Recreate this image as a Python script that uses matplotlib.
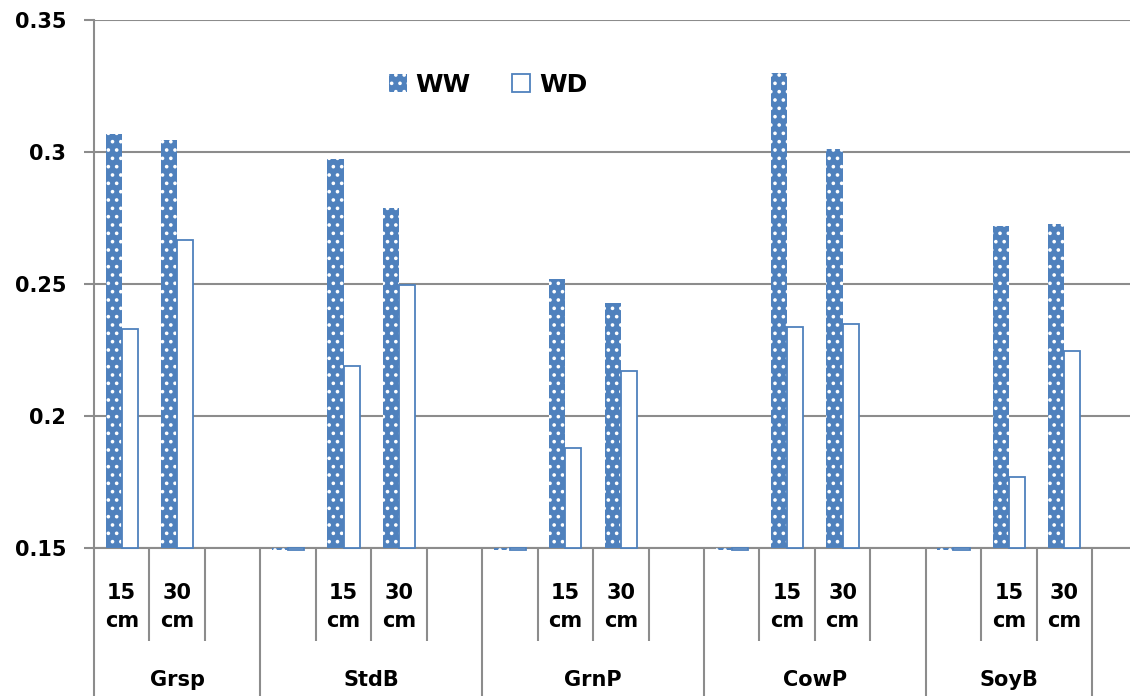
import numpy as np
import matplotlib
matplotlib.use("Agg")
import matplotlib.pyplot as plt
import matplotlib.transforms as mtransforms

# Data
groups = ["Grsp", "StdB", "GrnP", "CowP", "SoyB"]
slot_labels = ["15\ncm", "30\ncm", "",
               "", "15\ncm", "30\ncm", "",
               "", "15\ncm", "30\ncm", "",
               "", "15\ncm", "30\ncm", "",
               "", "15\ncm", "30\ncm"]
group_sizes = [3, 4, 4, 4, 3]
ww = [0.3068, 0.3045, np.nan,
      0.1492, 0.2973, 0.2788, np.nan,
      0.1492, 0.2521, 0.2427, np.nan,
      0.1492, 0.3298, 0.3010, np.nan,
      0.1492, 0.2722, 0.2727]
wd = [0.2329, 0.2667, np.nan,
      0.1492, 0.2191, 0.2495, np.nan,
      0.1492, 0.1880, 0.2172, np.nan,
      0.1492, 0.2337, 0.2348, np.nan,
      0.1492, 0.1771, 0.2247]
y_ticks = [0.15, 0.2, 0.25, 0.3, 0.35]
y_tick_labels = ["0.15", "0.2", "0.25", "0.3", "0.35"]

blue = "#4F81BD"
grid_grey = "#8C8C8C"
plt.rcParams["font.family"] = ["DejaVu Sans"]
plt.rcParams["font.weight"] = "bold"
plt.rcParams["hatch.linewidth"] = 1.4

W, H = 1130, 696
fig = plt.figure(figsize=(W / 100, H / 100), dpi=100)
slot_px = 55.45
ax = fig.add_axes([94 / W, (H - 548.3) / H, (W - 94) / W, (548.3 - 20) / H])

ymin, ymax = 0.15, 0.35
ax.set_ylim(ymin, ymax)
ax.set_xlim(0, (W - 94) / slot_px)

x = np.arange(len(ww)) + 0.5
bw = 0.29
ww_arr = np.array(ww)
wd_arr = np.array(wd)
ax.bar(x - bw / 2, ww_arr - ymin, bw, bottom=ymin, color=blue, edgecolor="white",
       linewidth=0, hatch="..", clip_on=False, zorder=3, label="WW")
ax.bar(x + bw / 2, wd_arr - ymin, bw, bottom=ymin, facecolor="white", edgecolor=blue,
       linewidth=1.3, clip_on=False, zorder=3, label="WD")

# y axis
ax.set_yticks(y_ticks)
ax.set_yticklabels(y_tick_labels, fontsize=15, fontweight="bold")
ax.tick_params(axis="y", length=7, width=1.5, color=grid_grey, pad=13)
ax.grid(axis="y", color=grid_grey, linewidth=1.5, zorder=0)
ax.set_axisbelow(True)

for s in ["top", "right"]:
    ax.spines[s].set_visible(False)
for s in ["left", "bottom"]:
    ax.spines[s].set_color(grid_grey)
    ax.spines[s].set_linewidth(1.5)

# x axis: group boundaries as long ticks, slot boundaries as short ticks
bounds = np.concatenate([[0], np.cumsum(group_sizes)])
inner = [i for i in range(len(ww) + 1) if i not in bounds]
ax.set_xticks(bounds)
ax.set_xticklabels([""] * len(bounds))
ax.set_xticks(inner, minor=True)
ax.tick_params(axis="x", which="major", length=150 * 0.72, width=1.5, color=grid_grey)
ax.tick_params(axis="x", which="minor", length=93 * 0.72, width=1.5, color=grid_grey)

trans = mtransforms.blended_transform_factory(ax.transData, fig.transFigure)
for xi, lab in zip(x, slot_labels):
    if lab:
        ax.text(xi, (H - 607) / H, lab, transform=trans, ha="center", va="center",
                fontsize=15, fontweight="bold", linespacing=1.55)
centers = (bounds[:-1] + bounds[1:]) / 2
for c, g in zip(centers, groups):
    ax.text(c, (H - 680) / H, g, transform=trans, ha="center", va="center",
            fontsize=15, fontweight="bold")

leg = ax.legend(loc="center", bbox_to_anchor=(488 / W, (H - 85) / H),
                bbox_transform=fig.transFigure, ncol=2, frameon=False,
                prop={"size": 18, "weight": "bold"}, handlelength=0.72,
                handleheight=0.72, handletextpad=0.36, columnspacing=1.64)

fig.savefig("out.png", dpi=100)
